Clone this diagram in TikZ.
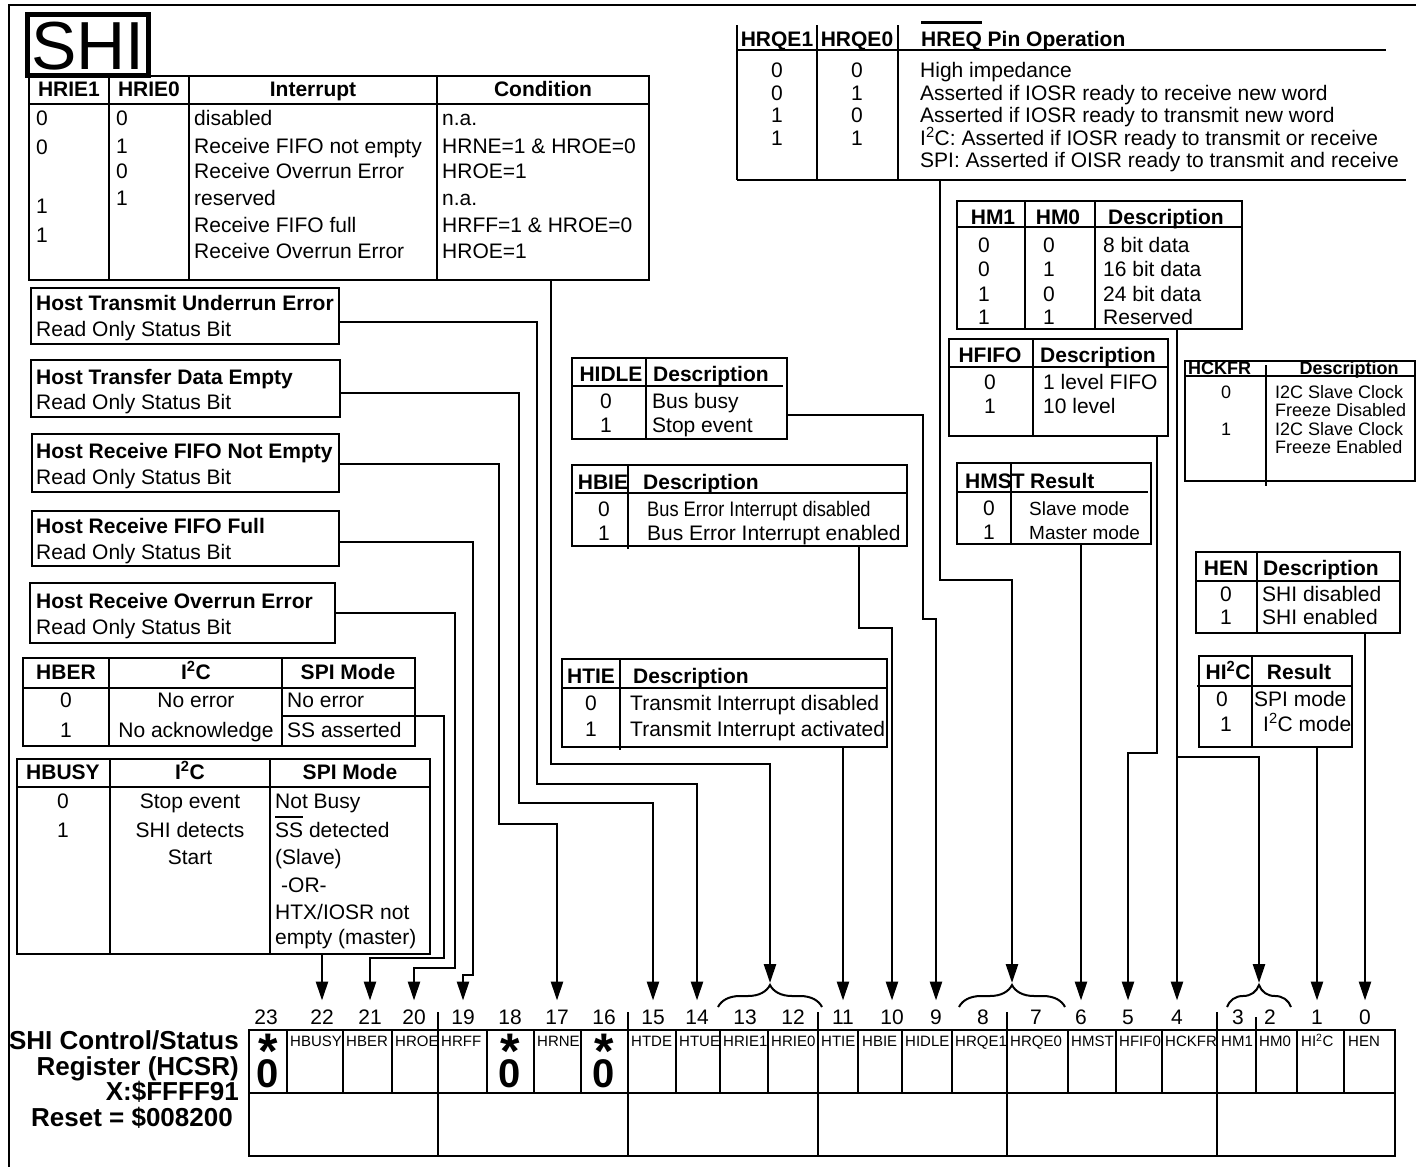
\documentclass[tikz,border=0pt]{standalone}
\usepackage{fontspec}
\usepackage{graphicx}
\setmainfont{Liberation Sans}
\usetikzlibrary{arrows.meta,decorations.pathreplacing}

\newcommand{\fs}[1]{\fontsize{#1}{#1}\selectfont}
\newcommand{\barover}[3]{\setbox0\hbox{#3}\rlap{\rule[#2]{\wd0}{#1}}\box0\relax}

\tikzset{
  frame/.style={line width=2.6pt},
  conn/.style={line width=2.6pt, -{Triangle[length=19pt,width=12pt]}},
  txt/.style={inner sep=0pt, text height=14pt, text depth=0pt, font=\fs{21}},
  txtl/.style={txt, anchor=west},
  hdr/.style={txt, font=\fs{21}\bfseries},
  hdrl/.style={hdr, anchor=west},
  small/.style={font=\fs{18}, text height=13pt},
  smallb/.style={font=\fs{18}\bfseries, text height=13pt},
  bitno/.style={inner sep=0pt, outer ysep=9pt, text height=15pt, text depth=0pt, font=\fs{21}},
  cellname/.style={inner sep=0pt, anchor=west, text height=11pt, text depth=0pt, font=\fs{15}},
  resstar/.style={inner sep=0pt, anchor=base, text height=36pt, text depth=-20pt, font=\fs{50}\bfseries},
  reszero/.style={inner sep=0pt, anchor=base, text height=29pt, text depth=0pt, font=\fs{40}\bfseries},
  reglbl/.style={inner sep=0pt, anchor=east, text height=18pt, text depth=0pt, font=\fs{26}\bfseries},
  curly/.style={decorate, decoration={brace, amplitude=22pt}, line width=2pt},
}

\begin{document}
\begin{tikzpicture}[x=1pt,y=-1pt]
\useasboundingbox (0,0) rectangle (1416,1167);
% Frame and title
\draw[frame] (1416,5) -- (9,5) -- (9,1167);
\node[draw, line width=5pt, minimum width=121pt, minimum height=61pt, inner sep=0pt,
      text height=49pt, text depth=0pt, font=\fs{68}] (shi) at (88,45) {SHI};

% HRIE interrupt table
\draw[frame] (29,76) rectangle (649,280);
\draw[frame] (29,104) -- (649,104);
\draw[frame] (109,76) -- (109,280);
\draw[frame] (189,76) -- (189,280);
\draw[frame] (437,76) -- (437,280);
\node[hdr] (ie-h1) at (69,89) {HRIE1};
\node[hdr] (ie-h2) at (149,89) {HRIE0};
\node[hdr] (ie-h3) at (313,89) {Interrupt};
\node[hdr] (ie-h4) at (543,89) {Condition};
\node[txtl] (ie-a1) at (36,118) {0};
\node[txtl] (ie-a2) at (36,147) {0};
\node[txtl] (ie-a3) at (36,206) {1};
\node[txtl] (ie-a4) at (36,235) {1};
\node[txtl] (ie-b1) at (116,118) {0};
\node[txtl] (ie-b2) at (116,146) {1};
\node[txtl] (ie-b3) at (116,171) {0};
\node[txtl] (ie-b4) at (116,198) {1};
\node[txtl] (ie-c1) at (194,118) {disabled};
\node[txtl] (ie-c2) at (194,146) {Receive FIFO not empty};
\node[txtl] (ie-c3) at (194,171) {Receive Overrun Error};
\node[txtl] (ie-c4) at (194,198) {reserved};
\node[txtl] (ie-c5) at (194,225) {Receive FIFO full};
\node[txtl] (ie-c6) at (194,251) {Receive Overrun Error};
\node[txtl] (ie-d1) at (442,118) {n.a.};
\node[txtl] (ie-d2) at (442,146) {HRNE=1 \& HROE=0};
\node[txtl] (ie-d3) at (442,171) {HROE=1};
\node[txtl] (ie-d4) at (442,198) {n.a.};
\node[txtl] (ie-d5) at (442,225) {HRFF=1 \& HROE=0};
\node[txtl] (ie-d6) at (442,251) {HROE=1};
\coordinate (ie-out) at (551,280);

% HREQ pin table
\draw[frame] (737,25) -- (737,180);
\draw[frame] (817,25) -- (817,180);
\draw[frame] (898,25) -- (898,180);
\draw[frame] (737,50) -- (1386,50);
\draw[frame] (737,180) -- (1406,180);
\node[hdr] (rq-h1) at (777,39) {HRQE1};
\node[hdr] (rq-h2) at (857,39) {HRQE0};
\node[hdrl] (rq-h3) at (921,39) {\barover{3pt}{22pt}{HREQ} Pin Operation};
\node[txt] (rq-a1) at (777,70) {0};
\node[txt] (rq-a2) at (777,93) {0};
\node[txt] (rq-a3) at (777,115) {1};
\node[txt] (rq-a4) at (777,138) {1};
\node[txt] (rq-b1) at (857,70) {0};
\node[txt] (rq-b2) at (857,93) {1};
\node[txt] (rq-b3) at (857,115) {0};
\node[txt] (rq-b4) at (857,138) {1};
\node[txtl] (rq-c1) at (920,70) {High impedance};
\node[txtl] (rq-c2) at (920,93) {Asserted if IOSR ready to receive new word};
\node[txtl] (rq-c3) at (920,115) {Asserted if IOSR ready to transmit new word};
\node[txtl] (rq-c4) at (920,138) {I\textsuperscript{2}C: Asserted if IOSR ready to transmit or receive};
\node[txtl] (rq-c5) at (920,160) {SPI: Asserted if OISR ready to transmit and receive};
\coordinate (rq-out) at (940,180);

% Status bit boxes
\draw[frame] (31,288) rectangle (339,344);
\node[hdrl] (tue-t) at (36,303) {Host Transmit Underrun Error};
\node[txtl] (tue-s) at (36,329) {Read Only Status Bit};
\coordinate (tue-out) at (339,322);
\draw[frame] (31,360) rectangle (340,417);
\node[hdrl] (tde-t) at (36,377) {Host Transfer Data Empty};
\node[txtl] (tde-s) at (36,402) {Read Only Status Bit};
\coordinate (tde-out) at (340,393);
\draw[frame] (32,434) rectangle (339,492);
\node[hdrl] (rne-t) at (36,451) {Host Receive FIFO Not Empty};
\node[txtl] (rne-s) at (36,477) {Read Only Status Bit};
\coordinate (rne-out) at (339,464);
\draw[frame] (32,511) rectangle (339,566);
\node[hdrl] (rff-t) at (36,526) {Host Receive FIFO Full};
\node[txtl] (rff-s) at (36,552) {Read Only Status Bit};
\coordinate (rff-out) at (339,542);
\draw[frame] (30,583) rectangle (335,643);
\node[hdrl] (roe-t) at (36,601) {Host Receive Overrun Error};
\node[txtl] (roe-s) at (36,627) {Read Only Status Bit};
\coordinate (roe-out) at (335,613);

% HBER table
\draw[frame] (23,658) rectangle (415,746);
\draw[frame] (109,658) -- (109,746);
\draw[frame] (282,658) -- (282,746);
\draw[frame] (23,688) -- (415,688);
\draw[frame] (282,716) -- (415,716);
\node[hdr] (ber-h1) at (66,672) {HBER};
\node[hdr] (ber-h2) at (196,672) {I\textsuperscript{2}C};
\node[hdr] (ber-h3) at (348,672) {SPI Mode};
\node[txt] (ber-a1) at (66,700) {0};
\node[txt] (ber-b1) at (196,700) {No error};
\node[txtl] (ber-c1) at (287,700) {No error};
\node[txt] (ber-a2) at (66,730) {1};
\node[txt] (ber-b2) at (196,730) {No acknowledge};
\node[txtl] (ber-c2) at (287,730) {SS asserted};
\coordinate (ber-out) at (415,716);

% HBUSY table
\draw[frame] (17,759) rectangle (430,954);
\draw[frame] (110,759) -- (110,954);
\draw[frame] (270,759) -- (270,954);
\draw[frame] (17,787) -- (430,787);
\node[hdr] (bu-h1) at (63,772) {HBUSY};
\node[hdr] (bu-h2) at (190,772) {I\textsuperscript{2}C};
\node[hdr] (bu-h3) at (350,772) {SPI Mode};
\node[txt] (bu-a1) at (63,801) {0};
\node[txt] (bu-b1) at (190,801) {Stop event};
\node[txtl] (bu-c1) at (275,801) {Not Busy};
\node[txt] (bu-a2) at (63,830) {1};
\node[txt] (bu-b2) at (190,830) {SHI detects};
\node[txtl] (bu-c2) at (275,830) {\barover{2pt}{19pt}{SS} detected};
\node[txt] (bu-b3) at (190,857) {Start};
\node[txtl] (bu-c3) at (275,857) {(Slave)};
\node[txtl] (bu-c4) at (281,885) {-OR-};
\node[txtl] (bu-c5) at (275,912) {HTX/IOSR not};
\node[txtl] (bu-c6) at (275,937) {empty (master)};
\coordinate (bu-out) at (322,954);

% HIDLE table
\draw[frame] (572,358) rectangle (787,439);
\draw[frame] (646,358) -- (646,439);
\draw[frame] (572,386) -- (783,386);
\node[hdr] (id-h1) at (611,374) {HIDLE};
\node[hdrl] (id-h2) at (653,374) {Description};
\node[txt] (id-a1) at (606,401) {0};
\node[txtl] (id-b1) at (652,401) {Bus busy};
\node[txt] (id-a2) at (606,425) {1};
\node[txtl] (id-b2) at (652,425) {Stop event};
\coordinate (id-out) at (787,415);

% HBIE table
\draw[frame] (572,465) rectangle (907,546);
\draw[frame] (628,465) -- (628,549);
\draw[frame] (575,493) -- (907,493);
\node[hdr] (bie-h1) at (603,482) {HBIE};
\node[hdrl] (bie-h2) at (643,482) {Description};
\node[txt] (bie-a1) at (604,509) {0};
\node[txtl] (bie-b1) at (647,509) {\scalebox{0.87}[1]{Bus Error Interrupt disabled}};
\node[txt] (bie-a2) at (604,533) {1};
\node[txtl] (bie-b2) at (647,533) {Bus Error Interrupt enabled};
\coordinate (bie-out) at (859,546);

% HTIE table
\draw[frame] (562,659) rectangle (887,747);
\draw[frame] (620,659) -- (620,750);
\draw[frame] (562,688) -- (887,688);
\node[hdr] (tie-h1) at (591,676) {HTIE};
\node[hdrl] (tie-h2) at (633,676) {Description};
\node[txt] (tie-a1) at (591,703) {0};
\node[txtl] (tie-b1) at (630,703) {Transmit Interrupt disabled};
\node[txt] (tie-a2) at (591,729) {1};
\node[txtl] (tie-b2) at (630,729) {Transmit Interrupt activated};
\coordinate (tie-out) at (843,747);

% HM table
\draw[frame] (957,201) rectangle (1242,329);
\draw[frame] (957,227) -- (1242,227);
\draw[frame] (1025,201) -- (1025,329);
\draw[frame] (1095,201) -- (1095,329);
\node[hdr] (hm-h1) at (993,217) {HM1};
\node[hdr] (hm-h2) at (1058,217) {HM0};
\node[hdrl] (hm-h3) at (1108,217) {Description};
\node[txt] (hm-a1) at (984,245) {0};
\node[txt] (hm-a2) at (984,269) {0};
\node[txt] (hm-a3) at (984,294) {1};
\node[txt] (hm-a4) at (984,317) {1};
\node[txt] (hm-b1) at (1049,245) {0};
\node[txt] (hm-b2) at (1049,269) {1};
\node[txt] (hm-b3) at (1049,294) {0};
\node[txt] (hm-b4) at (1049,317) {1};
\node[txtl] (hm-c1) at (1103,245) {8 bit data};
\node[txtl] (hm-c2) at (1103,269) {16 bit data};
\node[txtl] (hm-c3) at (1103,294) {24 bit data};
\node[txtl] (hm-c4) at (1103,317) {Reserved};
\coordinate (hm-out) at (1177,329);
\coordinate (hm-split) at (1177,757);

% HFIFO table
\draw[frame] (949,339) rectangle (1168,436);
\draw[frame] (949,367) -- (1168,367);
\draw[frame] (1033,339) -- (1033,436);
\node[hdr] (ff-h1) at (990,355) {HFIFO};
\node[hdrl] (ff-h2) at (1040,355) {Description};
\node[txt] (ff-a1) at (990,382) {0};
\node[txtl] (ff-b1) at (1043,382) {1 level FIFO};
\node[txt] (ff-a2) at (990,406) {1};
\node[txtl] (ff-b2) at (1043,406) {10 level};
\coordinate (ff-out) at (1157,436);

% HMST table
\draw[frame] (957,463) rectangle (1151,544);
\draw[frame] (1011,463) -- (1011,544);
\draw[frame] (957,492) -- (1148,492);
\node[hdrl] (ms-h1) at (965,481) {HMST};
\node[hdrl] (ms-h2) at (1030,481) {Result};
\node[txt] (ms-a1) at (989,508) {0};
\node[txtl, font=\fs{19}] (ms-b1) at (1029,508) {Slave mode};
\node[txt] (ms-a2) at (989,532) {1};
\node[txtl, font=\fs{19}] (ms-b2) at (1029,532) {Master mode};
\coordinate (ms-out) at (1081,544);

% HCKFR table
\draw[frame] (1185,361) rectangle (1415,481);
\draw[frame] (1185,376) -- (1415,376);
\draw[frame] (1266,365) -- (1266,486);
\node[hdrl, smallb] (ck-h1) at (1188,368) {HCKFR};
\node[hdr, smallb] (ck-h2) at (1349,368) {Description};
\node[txt, small] (ck-a1) at (1226,392) {0};
\node[txtl, small] (ck-b1) at (1275,392) {I2C Slave Clock};
\node[txtl, small] (ck-b2) at (1275,410) {Freeze Disabled};
\node[txt, small] (ck-a2) at (1226,429) {1};
\node[txtl, small] (ck-b3) at (1275,429) {I2C Slave Clock};
\node[txtl, small] (ck-b4) at (1275,447) {Freeze Enabled};

% HEN table
\draw[frame] (1196,552) rectangle (1400,633);
\draw[frame] (1257,552) -- (1257,633);
\draw[frame] (1196,581) -- (1400,581);
\node[hdr] (en-h1) at (1226,568) {HEN};
\node[hdrl] (en-h2) at (1263,568) {Description};
\node[txt] (en-a1) at (1226,594) {0};
\node[txtl] (en-b1) at (1262,594) {SHI disabled};
\node[txt] (en-a2) at (1226,617) {1};
\node[txtl] (en-b2) at (1262,617) {SHI enabled};
\coordinate (en-out) at (1365,633);

% HI2C table
\draw[frame] (1199,656) rectangle (1352,747);
\draw[frame] (1252,656) -- (1252,747);
\draw[frame] (1197,686) -- (1352,686);
\node[hdr] (i2c-h1) at (1228,672) {HI\textsuperscript{2}C};
\node[hdr] (i2c-h2) at (1299,672) {Result};
\node[txt] (i2c-a1) at (1222,699) {0};
\node[txtl] (i2c-b1) at (1254,699) {SPI mode};
\node[txt] (i2c-a2) at (1226,724) {1};
\node[txtl] (i2c-b2) at (1263,724) {I\textsuperscript{2}C mode};
\coordinate (i2c-out) at (1317,747);

% Register
\node[reglbl] (reg-l1) at (239,1040) {SHI Control/Status};
\node[reglbl] (reg-l2) at (239,1066) {Register (HCSR)};
\node[reglbl] (reg-l3) at (239,1091) {X:\$FFFF91};
\node[reglbl] (reg-l4) at (233,1117) {Reset = \$008200};
\draw[frame] (249,1030) rectangle (1395,1156);
\draw[frame] (249,1093) -- (1395,1093);
\draw[frame] (287,1030) -- (287,1093) (343,1030) -- (343,1093) (392,1030) -- (392,1093)
  (487,1030) -- (487,1093) (534,1030) -- (534,1093) (581,1030) -- (581,1093)
  (676,1030) -- (676,1093) (720,1030) -- (720,1093) (768,1030) -- (768,1093)
  (858,1030) -- (858,1093) (902,1030) -- (902,1093) (952,1030) -- (952,1093)
  (1068,1030) -- (1068,1093) (1116,1030) -- (1116,1093) (1162,1030) -- (1162,1093)
  (1256,1017) -- (1256,1093) (1297,1030) -- (1297,1093) (1344,1030) -- (1344,1093);
\draw[frame] (438,1012) -- (438,1156) (628,1012) -- (628,1156) (818,1012) -- (818,1156)
  (1007,1012) -- (1007,1156) (1217,1012) -- (1217,1156);
% Reserved bits
\node[resstar] (r23-s) at (268,1068) {*};
\node[reszero] (r23-z) at (268,1087) {0};
\node[resstar] (r18-s) at (510,1068) {*};
\node[reszero] (r18-z) at (510,1087) {0};
\node[resstar] (r16-s) at (604,1068) {*};
\node[reszero] (r16-z) at (604,1087) {0};
% Bit names
\node[cellname] (n22) at (290,1041) {HBUSY};
\node[cellname] (n21) at (346,1041) {HBER};
\node[cellname] (n20) at (395,1041) {HROE};
\node[cellname] (n19) at (441,1041) {HRFF};
\node[cellname] (n17) at (537,1041) {HRNE};
\node[cellname] (n15) at (631,1041) {HTDE};
\node[cellname] (n14) at (679,1041) {HTUE};
\node[cellname] (n13) at (723,1041) {HRIE1};
\node[cellname] (n12) at (771,1041) {HRIE0};
\node[cellname] (n11) at (821,1041) {HTIE};
\node[cellname] (n10) at (862,1041) {HBIE};
\node[cellname] (n9) at (905,1041) {HIDLE};
\node[cellname] (n8) at (955,1041) {HRQE1};
\node[cellname] (n7) at (1010,1041) {HRQE0};
\node[cellname] (n6) at (1071,1041) {HMST};
\node[cellname] (n5) at (1119,1041) {HFIF0};
\node[cellname] (n4) at (1165,1041) {HCKFR};
\node[cellname] (n3) at (1221,1041) {HM1};
\node[cellname] (n2) at (1259,1041) {HM0};
\node[cellname] (n1) at (1301,1041) {HI\textsuperscript{2}C};
\node[cellname] (n0) at (1348,1041) {HEN};
% Bit numbers
\node[bitno] (b23) at (266,1017) {23};
\node[bitno] (b22) at (322,1017) {22};
\node[bitno] (b21) at (370,1017) {21};
\node[bitno] (b20) at (414,1017) {20};
\node[bitno] (b19) at (463,1017) {19};
\node[bitno] (b18) at (510,1017) {18};
\node[bitno] (b17) at (557,1017) {17};
\node[bitno] (b16) at (604,1017) {16};
\node[bitno] (b15) at (653,1017) {15};
\node[bitno] (b14) at (697,1017) {14};
\node[bitno] (b13) at (745,1017) {13};
\node[bitno] (b12) at (793,1017) {12};
\node[bitno] (b11) at (843,1017) {11};
\node[bitno] (b10) at (892,1017) {10};
\node[bitno] (b9) at (936,1017) {9};
\node[bitno] (b8) at (983,1017) {8};
\node[bitno] (b7) at (1036,1017) {7};
\node[bitno] (b6) at (1081,1017) {6};
\node[bitno] (b5) at (1128,1017) {5};
\node[bitno] (b4) at (1177,1017) {4};
\node[bitno] (b3) at (1238,1017) {3};
\node[bitno] (b2) at (1270,1017) {2};
\node[bitno] (b1) at (1317,1017) {1};
\node[bitno] (b0) at (1365,1017) {0};
% Braces over bit pairs
\draw[curly] (718,1007) -- (822,1007);
\coordinate (br1312) at (770,983);
\draw[curly] (959,1007) -- (1065,1007);
\coordinate (br87) at (1012,983);
\draw[curly] (1227,1007) -- (1291,1007);
\coordinate (br32) at (1259,983);

% Left-hand connectors
\draw[conn] (bu-out) -- (b22.north);
\draw[conn] (ber-out) -| (444,958) -| (b21.north);
\draw[conn] (roe-out) -| (455,968) -| (b20.north);
\draw[conn] (rff-out) -| (473,975) -| (b19.north);
\draw[conn] (rne-out) -| (499,824) -| (b17.north);
\draw[conn] (tde-out) -| (519,803) -| (b15.north);
\draw[conn] (tue-out) -| (537,784) -| (b14.north);
\draw[conn] (ie-out) -- (551,764) -| (br1312);
% Right-hand connectors
\draw[conn] (tie-out) -- (b11.north);
\draw[conn] (bie-out) -- (859,628) -| (b10.north);
\draw[conn] (id-out) -| (923,619) -| (b9.north);
\draw[conn] (rq-out) -- (940,580) -| (br87);
\draw[conn] (ms-out) -- (b6.north);
\draw[conn] (ff-out) -- (1157,753) -| (b5.north);
\draw[conn] (hm-out) -- (b4.north);
\draw[conn] (hm-split) -| (br32);
\draw[conn] (i2c-out) -- (b1.north);
\draw[conn] (en-out) -- (b0.north);
\end{tikzpicture}
\end{document}
